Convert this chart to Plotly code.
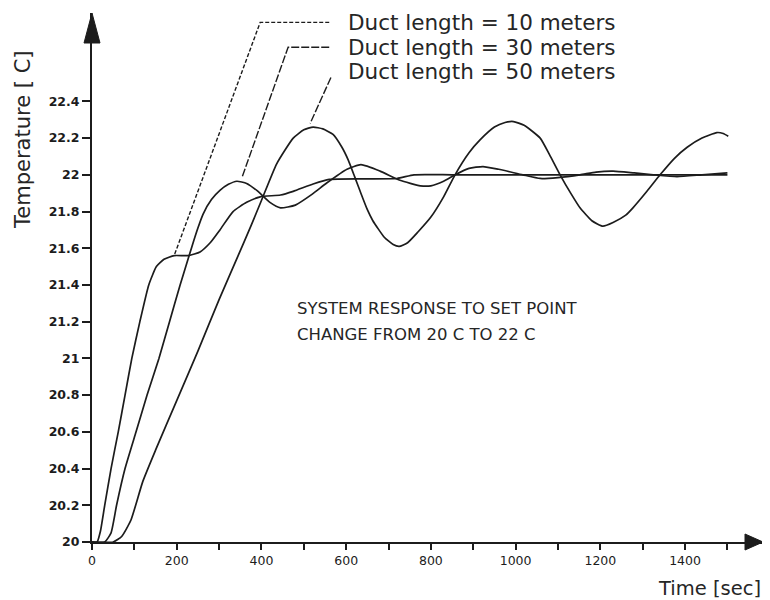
import plotly.graph_objects as go

# ---- data ----
t10 = [0, 12, 20, 30, 45, 62, 78, 94, 113, 134, 152, 170, 194, 228, 255, 279, 302, 333, 365, 397, 445, 475, 522, 560, 640, 720, 760, 850, 1000, 1200, 1400, 1500]
T10 = [20.0, 20.0, 20.06, 20.2, 20.4, 20.6, 20.8, 21.0, 21.2, 21.4, 21.5, 21.54, 21.56, 21.56, 21.58, 21.63, 21.70, 21.80, 21.85, 21.88, 21.89, 21.91, 21.95, 21.975, 21.978, 21.98, 22.0, 22.0, 22.0, 22.0, 22.0, 22.0]

t30 = [0, 30, 45, 58, 78, 104, 130, 158, 183, 208, 236, 250, 262, 282, 302, 322, 342, 365, 389, 420, 445, 480, 520, 554, 602, 635, 680, 727, 775, 800, 830, 857, 890, 923, 960, 1017, 1058, 1100, 1152, 1190, 1230, 1280, 1325, 1381, 1440, 1500]
T30 = [20.0, 20.0, 20.05, 20.2, 20.4, 20.6, 20.8, 21.0, 21.2, 21.4, 21.61, 21.71, 21.785, 21.865, 21.915, 21.948, 21.965, 21.953, 21.915, 21.85, 21.82, 21.835, 21.895, 21.955, 22.03, 22.055, 22.02, 21.97, 21.94, 21.94, 21.965, 22.0, 22.035, 22.045, 22.03, 22.0, 21.98, 21.985, 22.0, 22.015, 22.02, 22.01, 22.0, 21.99, 22.0, 22.01]

t50 = [0, 50, 70, 92, 120, 150, 200, 250, 300, 345, 375, 400, 436, 475, 500, 522, 545, 569, 590, 605, 620, 633, 650, 663, 690, 711, 725, 745, 770, 800, 830, 857, 890, 916, 950, 975, 995, 1020, 1058, 1080, 1105, 1130, 1152, 1180, 1206, 1230, 1260, 1277, 1310, 1341, 1375, 1405, 1440, 1475, 1490, 1502]
T50 = [20.0, 20.0, 20.03, 20.12, 20.33, 20.5, 20.77, 21.04, 21.32, 21.56, 21.72, 21.86, 22.06, 22.2, 22.245, 22.26, 22.25, 22.22, 22.15, 22.08, 21.99, 21.91, 21.81, 21.75, 21.66, 21.62, 21.61, 21.63, 21.69, 21.77, 21.88, 22.0, 22.12, 22.19, 22.26, 22.285, 22.29, 22.27, 22.2, 22.11, 22.0, 21.9, 21.82, 21.75, 21.72, 21.74, 21.78, 21.82, 21.91, 22.0, 22.09, 22.15, 22.2, 22.23, 22.225, 22.21]

legend_labels = ["Duct length = 10 meters", "Duct length = 30 meters", "Duct length = 50 meters"]
note_lines = ["SYSTEM RESPONSE TO SET POINT", "CHANGE FROM 20 C TO 22 C"]

x_tickvals = list(range(0, 1501, 100))
x_ticktext = [str(v) if v % 200 == 0 else "" for v in x_tickvals]
y_tickvals = [20.0, 20.2, 20.4, 20.6, 20.8, 21.0, 21.2, 21.4, 21.6, 21.8, 22.0, 22.2, 22.4]
y_ticktext = ["20", "20.2", "20.4", "20.6", "20.8", "21", "21.2", "21.4", "21.6", "21.8", "22", "22.2", "22.4"]

# ---- layout geometry (page body has an 8px margin) ----
W, H = 762, 592
ML, MR, MT, MB = 84, 7, 5, 58
XMAX = 1584
YMAX = 20 + (H - MT - MB) / 183.6

FONT = "DejaVu Sans"
INK = "#1c1c1c"
TEXT_INK = "#262626"

fig = go.Figure()
for tt, TT in [(t10, T10), (t30, T30), (t50, T50)]:
    fig.add_trace(go.Scatter(x=tt, y=TT, mode="lines",
                             line=dict(color=INK, width=1.7, shape="spline", smoothing=0.5),
                             hoverinfo="skip"))

# leader lines from legend text to the curves
legend_T = [22.83, 22.695, 22.56]
legend_t_text = 600
legend_t_end = 560
i_plateau = T10.index(21.56)
early30 = [v for tv, v in zip(t30, T30) if tv < 500]
i30 = T30.index(max(early30))
early50 = [v for tv, v in zip(t50, T50) if tv < 700]
i50 = T50.index(max(early50))
leaders = [
    ([legend_t_end, 397, t10[i_plateau]], [legend_T[0], legend_T[0], T10[i_plateau]], "4px,2px"),
    ([legend_t_end, 463, t30[i30] + 12], [legend_T[1], legend_T[1], T30[i30] + 0.02], "8px,2px"),
    ([legend_t_end + 4, t50[i50] - 7], [legend_T[2] - 0.03, T50[i50] + 0.02], "8px,2px"),
]
for lx, ly, dash in leaders:
    fig.add_trace(go.Scatter(x=lx, y=ly, mode="lines",
                             line=dict(color=INK, width=1.4, dash=dash),
                             hoverinfo="skip", cliponaxis=False))

annotations = []
for lab, ty in zip(legend_labels, legend_T):
    annotations.append(dict(x=legend_t_text, y=ty, xref="x", yref="y", text=lab,
                            showarrow=False, xanchor="left", yanchor="middle",
                            font=dict(family=FONT, size=21.5, color=TEXT_INK)))
for k, line in enumerate(note_lines):
    annotations.append(dict(x=480, y=21.27 - 0.14 * k, xref="x", yref="y", text=line,
                            showarrow=False, xanchor="left", yanchor="middle",
                            font=dict(family=FONT, size=16.5, color=TEXT_INK)))
annotations.append(dict(x=0, y=22.19, xref="paper", yref="y", xshift=-69,
                        text="Temperature [ C]", textangle=-90, showarrow=False,
                        xanchor="center", yanchor="middle",
                        font=dict(family=FONT, size=21, color=TEXT_INK)))
annotations.append(dict(x=1, y=0, xref="paper", yref="paper", yshift=-46,
                        text="Time [sec]", showarrow=False,
                        xanchor="right", yanchor="middle",
                        font=dict(family=FONT, size=19.5, color=TEXT_INK)))

shapes = [
    dict(type="path", xref="paper", yref="paper", xsizemode="pixel", ysizemode="pixel",
         xanchor=0, yanchor=1, path="M -8,-30 L 0,0 L 8,-30 Z",
         fillcolor=INK, line=dict(color=INK, width=1)),
    dict(type="path", xref="paper", yref="paper", xsizemode="pixel", ysizemode="pixel",
         xanchor=1, yanchor=0, path="M 0,0 L -18,8 L -18,-8 Z",
         fillcolor=INK, line=dict(color=INK, width=1)),
]

fig.update_layout(
    width=W, height=H, autosize=False,
    margin=dict(l=ML, r=MR, t=MT, b=MB),
    paper_bgcolor="white", plot_bgcolor="white",
    showlegend=False,
    annotations=annotations, shapes=shapes,
    xaxis=dict(range=[0, XMAX], showgrid=False, zeroline=False,
               showline=True, linecolor=INK, linewidth=2,
               ticks="outside", ticklen=6, tickwidth=1.5, tickcolor=INK,
               tickvals=x_tickvals, ticktext=x_ticktext,
               tickfont=dict(family=FONT, size=12.5, color=INK)),
    yaxis=dict(range=[20, YMAX], showgrid=False, zeroline=False,
               showline=True, linecolor=INK, linewidth=2,
               ticks="outside", ticklen=8, tickwidth=1.5, tickcolor=INK,
               tickvals=y_tickvals, ticktext=y_ticktext,
               tickfont=dict(family=FONT, size=12.5, color=INK, weight="bold")),
)

fig.write_html("out.html")
